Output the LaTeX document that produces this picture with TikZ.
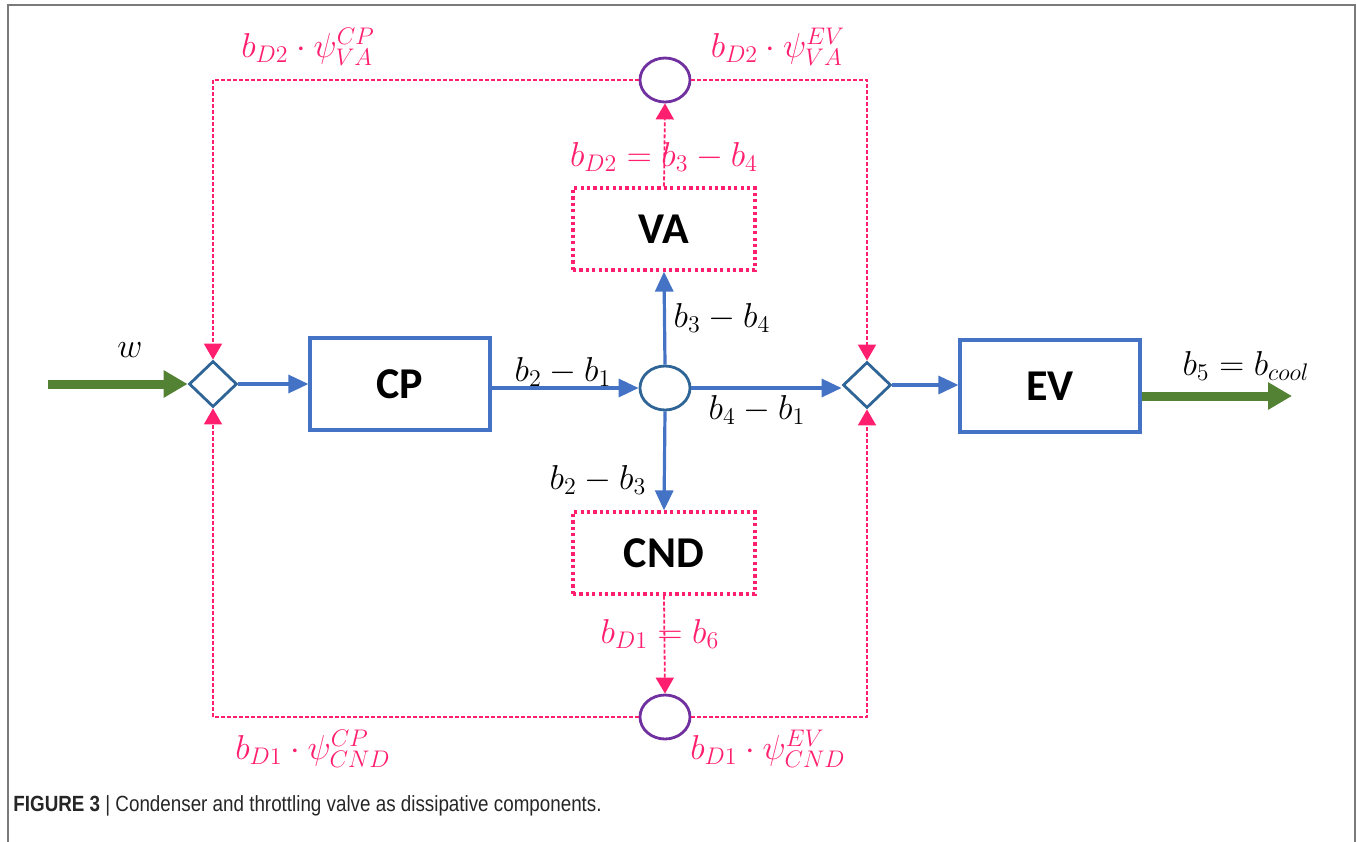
\documentclass[tikz,border=0pt]{standalone}
\usepackage[no-math]{fontspec}
\newfontfamily\boxfont{Carlito}
\newfontfamily\capfont{Liberation Sans}
\usetikzlibrary{shapes.geometric,arrows.meta}
\definecolor{cpblue}{HTML}{4472C4}
\definecolor{stblue}{HTML}{2F6496}
\definecolor{pk}{HTML}{FF1F6E}
\definecolor{pur}{HTML}{7030A0}
\definecolor{grn}{HTML}{548235}
\definecolor{frm}{HTML}{7A7A7A}
\begin{document}
\begin{tikzpicture}[x=0.5pt,y=-0.5pt,
  blk/.style={draw=cpblue, line width=1.6pt, minimum width=90pt, minimum height=46pt, inner sep=0pt,
    font=\boxfont\bfseries\fontsize{22}{26}\selectfont},
  dis/.style={draw=pk, line width=1.6pt, dash pattern=on 1.6pt off 1.6pt, minimum width=91pt, minimum height=41pt, inner sep=0pt,
    font=\boxfont\bfseries\fontsize{22}{26}\selectfont},
  junc/.style={diamond, draw=stblue, line width=1.4pt, minimum width=24pt, minimum height=23pt, inner sep=0pt},
  mix/.style={ellipse, line width=1.4pt, minimum width=25pt, minimum height=22pt, inner sep=0pt},
  blu/.style={draw=cpblue, line width=1.6pt, -{Triangle[length=10pt,width=9pt]}},
  thick green/.style={draw=grn, line width=4.5pt, -{Triangle[length=12pt,width=13pt]}},
  dl/.style={draw=pk, line width=0.9pt, dash pattern=on 2pt off 1pt},
  pka/.style={-{Triangle[length=8pt,width=9pt]}},
  ml/.style={font=\fontsize{17.28}{20}\selectfont, inner sep=0pt},
  pml/.style={ml, text=pk}
]
\useasboundingbox (0,0) rectangle (1357,842);
% frame
\draw[frm, line width=1pt] (8,842) -- (8,5) -- (1355,5) -- (1355,842);

% nodes
\node[junc] (d1) at (213,384) {};
\node[junc] (d2) at (867,385) {};
\node[blk] (cp) at (400,384) {CP};
\node[blk] (ev) at (1050,386) {EV};
\node[mix, draw=stblue] (c) at (665,388) {};
\node[dis] (va) at (664,229) {VA};
\node[dis] (cnd) at (664,553) {CND};
\node[mix, draw=pur] (ct) at (665,80) {};
\node[mix, draw=pur] (cb) at (665,717) {};
\coordinate (win) at (48,384);
\coordinate (cout) at (1292,396);

% green flows
\draw[thick green] (win) -- (d1.west);
\draw[thick green] (cout -| ev.east) -- (cout);

% blue flows
\draw[blu] (d1.east) -- (d1.east -| cp.west);
\draw[blu] (cp.east |- c.west) -- (c.west);
\draw[blu] (c.north) -- (va.south);
\draw[blu] (c.south) -- (cnd.north);
\draw[blu] (c.east) -- (c.east -| d2.west);
\draw[blu] (d2.east) -- (d2.east -| ev.west);

% dissipation flows
\draw[dl, pka] (va.north) -- (ct.south);
\draw[dl, pka] (cnd.south) -- (cb.north);
\draw[dl, pka] (ct.west) -| (d1.north);
\draw[dl, pka] (ct.east) -| (d2.north);
\draw[dl, pka] (cb.west) -| (d1.south);
\draw[dl, pka] (cb.east) -| (d2.south);

% labels
\node[ml] (lw) at (130,350) {$w$};
\node[ml] (l21) at (563,372) {$b_2-b_1$};
\node[ml] (l34) at (722,318) {$b_3-b_4$};
\node[ml] (l41) at (757,410) {$b_4-b_1$};
\node[ml] (l23) at (598,480) {$b_2-b_3$};
\node[ml] (l5) at (1246,366) {$b_5=b_{cool}$};
\node[pml] (ld2) at (664,157) {$b_{D2}=b_3-b_4$};
\node[pml] (ld1) at (660,634) {$b_{D1}=b_6$};
\node[pml] (lvacp) at (308,47) {$b_{D2}\cdot\psi_{VA}^{CP}$};
\node[pml] (lvaev) at (778,47) {$b_{D2}\cdot\psi_{VA}^{EV}$};
\node[pml] (lcndcp) at (313,749) {$b_{D1}\cdot\psi_{CND}^{CP}$};
\node[pml] (lcndev) at (768,749) {$b_{D1}\cdot\psi_{CND}^{EV}$};

% caption
\node[anchor=west, inner sep=0pt, font=\capfont\fontsize{11}{13}\selectfont, text=black!85] (cap) at (13,806)
  {\scalebox{0.855}[1]{\textbf{FIGURE 3} | Condenser and throttling valve as dissipative components.}};
\end{tikzpicture}
\end{document}
